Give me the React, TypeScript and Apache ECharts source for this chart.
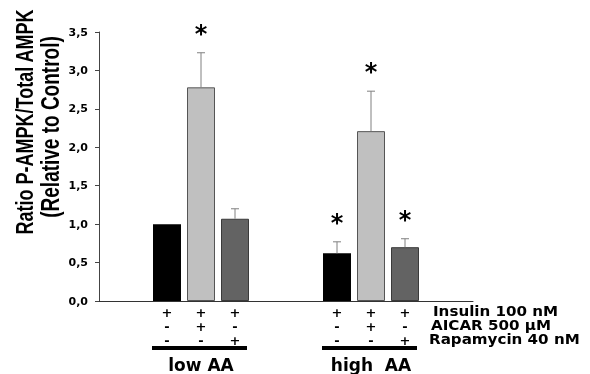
import React, { useEffect, useRef } from "react";
import * as echarts from "echarts";

// ---- data ----
const positions = [2, 3, 4, 7, 8, 9];
const values = [1.0, 2.78, 1.07, 0.62, 2.21, 0.7];
const errors = [0, 0.45, 0.13, 0.15, 0.52, 0.11];
const significant = [false, true, false, true, true, true];
const insulin = ["+", "+", "+", "+", "+", "+"];
const aicar = ["-", "+", "-", "-", "+", "-"];
const rapamycin = ["-", "-", "+", "-", "-", "+"];
const treatmentNames = ["Insulin 100 nM", "AICAR 500 \u00b5M", "Rapamycin 40 nM"];
const groupNames = ["low AA", "high  AA"];
const yTicks = [0, 0.5, 1, 1.5, 2, 2.5, 3, 3.5];
const barColors = ["#000000", "#c0c0c0", "#636363"];
const barBorders = ["#000000", "#555555", "#3a3a3a"];

const FONT = "DejaVu Sans";

export default function App() {
  const ref = useRef<HTMLDivElement>(null);
  useEffect(() => {
    if (!ref.current) return;
    const chart = echarts.init(ref.current, null, { renderer: "svg" });
    const barData = positions.map((p, i) => ({
      value: [p, values[i]],
      itemStyle: {
        color: barColors[i % 3],
        borderColor: barBorders[i % 3],
        borderWidth: i % 3 === 0 ? 0 : 1,
      },
    }));
    const errData = positions.map((p, i) => [p, values[i], errors[i], significant[i] ? 1 : 0]);
    const option: any = {
      animation: false,
      grid: { left: 99, right: 117, top: 32, bottom: 73 },
      xAxis: {
        type: "value",
        min: 0,
        max: 11,
        interval: 1,
        splitLine: { show: false },
        axisTick: { show: false },
        axisLine: { show: true, lineStyle: { color: "#333333", width: 1 } },
        axisLabel: {
          show: true,
          margin: 4,
          showMinLabel: false,
          showMaxLabel: false,
          formatter: (v: number) => {
            const i = positions.indexOf(v);
            if (i < 0) return "";
            return [insulin[i], aicar[i], rapamycin[i]].join("\n");
          },
          fontFamily: FONT,
          fontWeight: "bold",
          fontSize: 13,
          lineHeight: 14,
          color: "#000",
        },
      },
      yAxis: {
        type: "value",
        min: 0,
        max: 3.5,
        interval: 0.5,
        splitLine: { show: false },
        axisLine: { show: true, lineStyle: { color: "#444444", width: 1 } },
        axisTick: { show: true, length: 4, lineStyle: { color: "#444444" } },
        axisLabel: {
          margin: 11,
          formatter: (v: number) => (yTicks.includes(v) ? v.toFixed(1).replace(".", ",") : ""),
          fontFamily: FONT,
          fontWeight: "bold",
          fontSize: 11,
          color: "#000",
        },
      },
      series: [
        {
          type: "bar",
          data: barData,
          barWidth: 28,
          z: 2,
        },
        {
          type: "custom",
          z: 3,
          data: errData,
          renderItem: (params: any, api: any) => {
            const x = api.value(0);
            const v = api.value(1);
            const e = api.value(2);
            const sig = api.value(3);
            const base = api.coord([x, v]);
            const top = api.coord([x, v + e]);
            const children: any[] = [];
            if (e > 0) {
              children.push({
                type: "line",
                shape: { x1: base[0], y1: base[1], x2: top[0], y2: top[1] },
                style: { stroke: "#808080", lineWidth: 1 },
              });
              children.push({
                type: "line",
                shape: { x1: top[0] - 4, y1: top[1], x2: top[0] + 4, y2: top[1] },
                style: { stroke: "#808080", lineWidth: 1 },
              });
            }
            if (sig) {
              children.push({
                type: "text",
                style: {
                  text: "*",
                  x: top[0],
                  y: top[1] - 19,
                  align: "center",
                  verticalAlign: "middle",
                  font: `bold 24px "${FONT}"`,
                  fill: "#000",
                },
              });
            }
            return { type: "group", children };
          },
        },
      ],
      graphic: [
        {
          type: "text",
          x: 25,
          y: 122,
          rotation: Math.PI / 2,
          scaleY: 1.35,
          style: {
            text: "Ratio P-AMPK/Total AMPK",
            align: "center",
            verticalAlign: "middle",
            font: 'bold 18px "Liberation Sans"',
            fill: "#000",
          },
        },
        {
          type: "text",
          x: 50,
          y: 127,
          rotation: Math.PI / 2,
          scaleY: 1.35,
          style: {
            text: "(Relative to Control)",
            align: "center",
            verticalAlign: "middle",
            font: 'bold 19px "Liberation Sans"',
            fill: "#000",
          },
        },
        ...treatmentNames.map((t, i) => ({
          type: "text",
          x: [433, 431, 429][i],
          y: 311 + i * 14,
          scaleX: 1.08,
          style: {
            text: t,
            align: "left",
            verticalAlign: "middle",
            font: `bold 14px "${FONT}"`,
            fill: "#000",
          },
        })),
        { type: "rect", shape: { x: 152, y: 346, width: 95, height: 4 }, style: { fill: "#000" } },
        { type: "rect", shape: { x: 322, y: 346, width: 95, height: 4 }, style: { fill: "#000" } },
        ...groupNames.map((g, i) => ({
          type: "text",
          x: [201, 371][i],
          y: 365,
          style: {
            text: g,
            align: "center",
            verticalAlign: "middle",
            font: `bold 17px "${FONT}"`,
            fill: "#000",
          },
        })),
      ],
    };
    chart.setOption(option);
    return () => chart.dispose();
  }, []);
  return (
    <div
      ref={ref}
      style={{ position: "fixed", left: 0, top: 0, width: 590, height: 374 }}
    />
  );
}
